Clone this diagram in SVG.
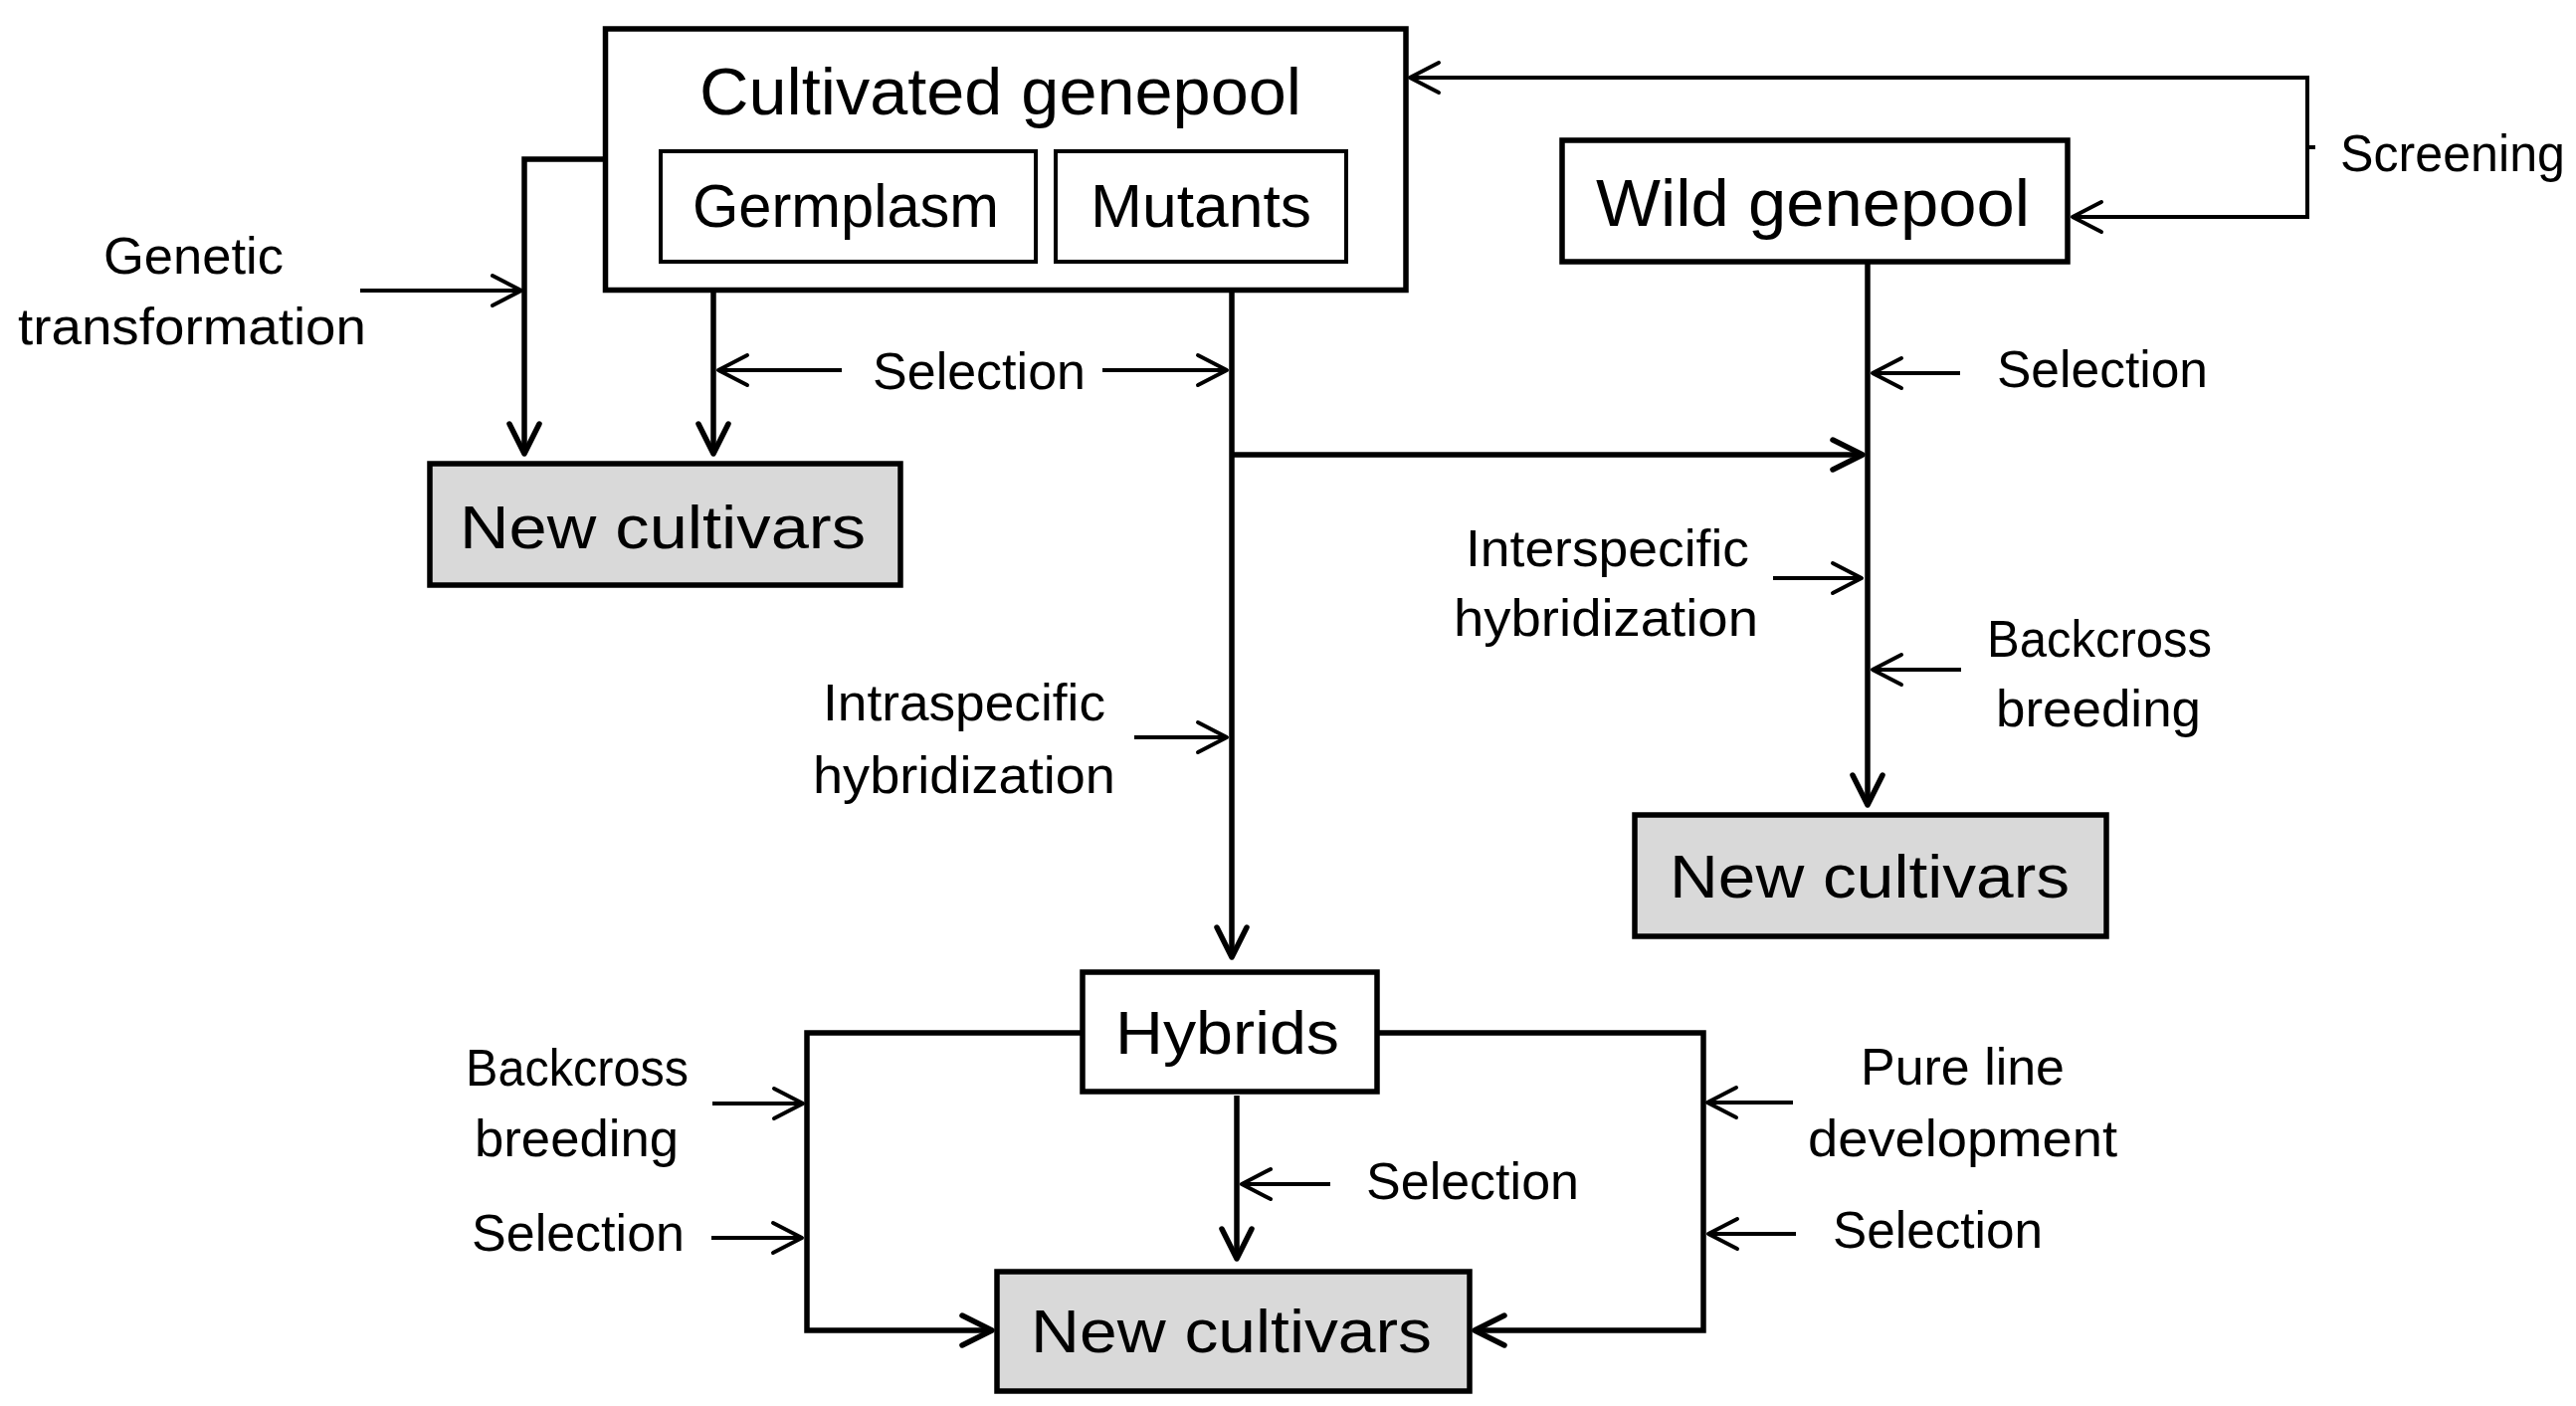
<svg xmlns="http://www.w3.org/2000/svg" width="2589" height="1413" viewBox="0 0 2589 1413">
<style>
text{font-family:"Liberation Sans",Arial,sans-serif;fill:#000}
.big{font-size:66px}
.med{font-size:61px}
.sm{font-size:52px}
.box{fill:#fff;stroke:#000;stroke-width:5.5}
.inner{fill:#fff;stroke:#000;stroke-width:4}
.out{fill:#d9d9d9;stroke:#000;stroke-width:5.5}
.main{fill:none;stroke:#000;stroke-width:5.5}
.thin{fill:none;stroke:#000;stroke-width:4}
</style>
<defs>
<marker id="aT" markerUnits="userSpaceOnUse" markerWidth="40" markerHeight="40" refX="0" refY="0" orient="auto" overflow="visible">
<path d="M-30,-15 L0,0 L-30,15" fill="none" stroke="#000" stroke-width="5.5" stroke-linecap="round" stroke-linejoin="round"/>
</marker>
<marker id="a" markerUnits="userSpaceOnUse" markerWidth="40" markerHeight="40" refX="0" refY="0" orient="auto" overflow="visible">
<path d="M-29,-15 L0,0 L-29,15" fill="none" stroke="#000" stroke-width="4" stroke-linecap="round" stroke-linejoin="round"/>
</marker>
</defs>
<rect width="2589" height="1413" fill="#fff"/>
<g id="connectors">
<path class="main" d="M608,160 H527 V456" marker-end="url(#aT)"/>
<path class="main" d="M717,292 V456" marker-end="url(#aT)"/>
<path class="main" d="M1238,292 V962" marker-end="url(#aT)"/>
<path class="main" d="M1238,457 H1872" marker-end="url(#aT)"/>
<path class="main" d="M1877,263 V809" marker-end="url(#aT)"/>
<path class="main" d="M1088,1038 H811 V1337 H997" marker-end="url(#aT)"/>
<path class="main" d="M1384,1038 H1712 V1337 H1482" marker-end="url(#aT)"/>
<path class="main" d="M1243,1101 V1265" marker-end="url(#aT)"/>
<path class="thin" d="M2319,148 V78 H1417" marker-end="url(#a)"/>
<path class="thin" d="M2319,148 V218 H2083" marker-end="url(#a)"/>
<path class="thin" d="M2319,148 H2327"/>
<path class="thin" d="M362,292 H524" marker-end="url(#a)"/>
<path class="thin" d="M846,372 H722" marker-end="url(#a)"/>
<path class="thin" d="M1108,372 H1233" marker-end="url(#a)"/>
<path class="thin" d="M1970,375 H1882" marker-end="url(#a)"/>
<path class="thin" d="M1782,581 H1871" marker-end="url(#a)"/>
<path class="thin" d="M1971,673 H1882" marker-end="url(#a)"/>
<path class="thin" d="M1140,741 H1233" marker-end="url(#a)"/>
<path class="thin" d="M716,1109 H807" marker-end="url(#a)"/>
<path class="thin" d="M715,1244 H806" marker-end="url(#a)"/>
<path class="thin" d="M1337,1190 H1248" marker-end="url(#a)"/>
<path class="thin" d="M1802,1108 H1716" marker-end="url(#a)"/>
<path class="thin" d="M1805,1240 H1717" marker-end="url(#a)"/>
</g>
<g id="cultivated">
<rect class="box" x="608.5" y="29" width="804.5" height="262.5"/>
<text class="big" x="703" y="115" textLength="605" lengthAdjust="spacingAndGlyphs">Cultivated genepool</text>
</g>
<g id="germplasm">
<rect class="inner" x="664" y="152" width="377" height="111"/>
<text class="med" x="696" y="228" textLength="308" lengthAdjust="spacingAndGlyphs">Germplasm</text>
</g>
<g id="mutants">
<rect class="inner" x="1061" y="152" width="292" height="111"/>
<text class="med" x="1096" y="228" textLength="222" lengthAdjust="spacingAndGlyphs">Mutants</text>
</g>
<g id="wild">
<rect class="box" x="1570" y="141" width="508" height="122"/>
<text class="big" x="1604" y="227" textLength="436" lengthAdjust="spacingAndGlyphs">Wild genepool</text>
</g>
<g id="newcultivars-left">
<rect class="out" x="432" y="466" width="473" height="122"/>
<text class="med" x="462" y="551" textLength="408" lengthAdjust="spacingAndGlyphs">New cultivars</text>
</g>
<g id="newcultivars-right">
<rect class="out" x="1643" y="819" width="474" height="122"/>
<text class="med" x="1678" y="902" textLength="402" lengthAdjust="spacingAndGlyphs">New cultivars</text>
</g>
<g id="hybrids">
<rect class="box" x="1088" y="977" width="296" height="120"/>
<text class="med" x="1121" y="1059" textLength="225" lengthAdjust="spacingAndGlyphs">Hybrids</text>
</g>
<g id="newcultivars-bottom">
<rect class="out" x="1002" y="1278" width="475" height="120"/>
<text class="med" x="1036" y="1359" textLength="403" lengthAdjust="spacingAndGlyphs">New cultivars</text>
</g>
<g id="labels">
<text class="sm" x="104" y="275" textLength="181" lengthAdjust="spacingAndGlyphs">Genetic</text>
<text class="sm" x="18" y="346" textLength="350" lengthAdjust="spacingAndGlyphs">transformation</text>
<text class="sm" x="877" y="391" textLength="214" lengthAdjust="spacingAndGlyphs">Selection</text>
<text class="sm" x="2352" y="172" textLength="226" lengthAdjust="spacingAndGlyphs">Screening</text>
<text class="sm" x="2007" y="389" textLength="212" lengthAdjust="spacingAndGlyphs">Selection</text>
<text class="sm" x="1473" y="569" textLength="285" lengthAdjust="spacingAndGlyphs">Interspecific</text>
<text class="sm" x="1461" y="639" textLength="306" lengthAdjust="spacingAndGlyphs">hybridization</text>
<text class="sm" x="1997" y="660" textLength="226" lengthAdjust="spacingAndGlyphs">Backcross</text>
<text class="sm" x="2006" y="730" textLength="206" lengthAdjust="spacingAndGlyphs">breeding</text>
<text class="sm" x="827" y="724" textLength="284" lengthAdjust="spacingAndGlyphs">Intraspecific</text>
<text class="sm" x="817" y="797" textLength="304" lengthAdjust="spacingAndGlyphs">hybridization</text>
<text class="sm" x="468" y="1091" textLength="224" lengthAdjust="spacingAndGlyphs">Backcross</text>
<text class="sm" x="477" y="1162" textLength="205" lengthAdjust="spacingAndGlyphs">breeding</text>
<text class="sm" x="474" y="1257" textLength="214" lengthAdjust="spacingAndGlyphs">Selection</text>
<text class="sm" x="1373" y="1205" textLength="214" lengthAdjust="spacingAndGlyphs">Selection</text>
<text class="sm" x="1870" y="1090" textLength="205" lengthAdjust="spacingAndGlyphs">Pure line</text>
<text class="sm" x="1817" y="1162" textLength="311" lengthAdjust="spacingAndGlyphs">development</text>
<text class="sm" x="1842" y="1254" textLength="211" lengthAdjust="spacingAndGlyphs">Selection</text>
</g>
</svg>
